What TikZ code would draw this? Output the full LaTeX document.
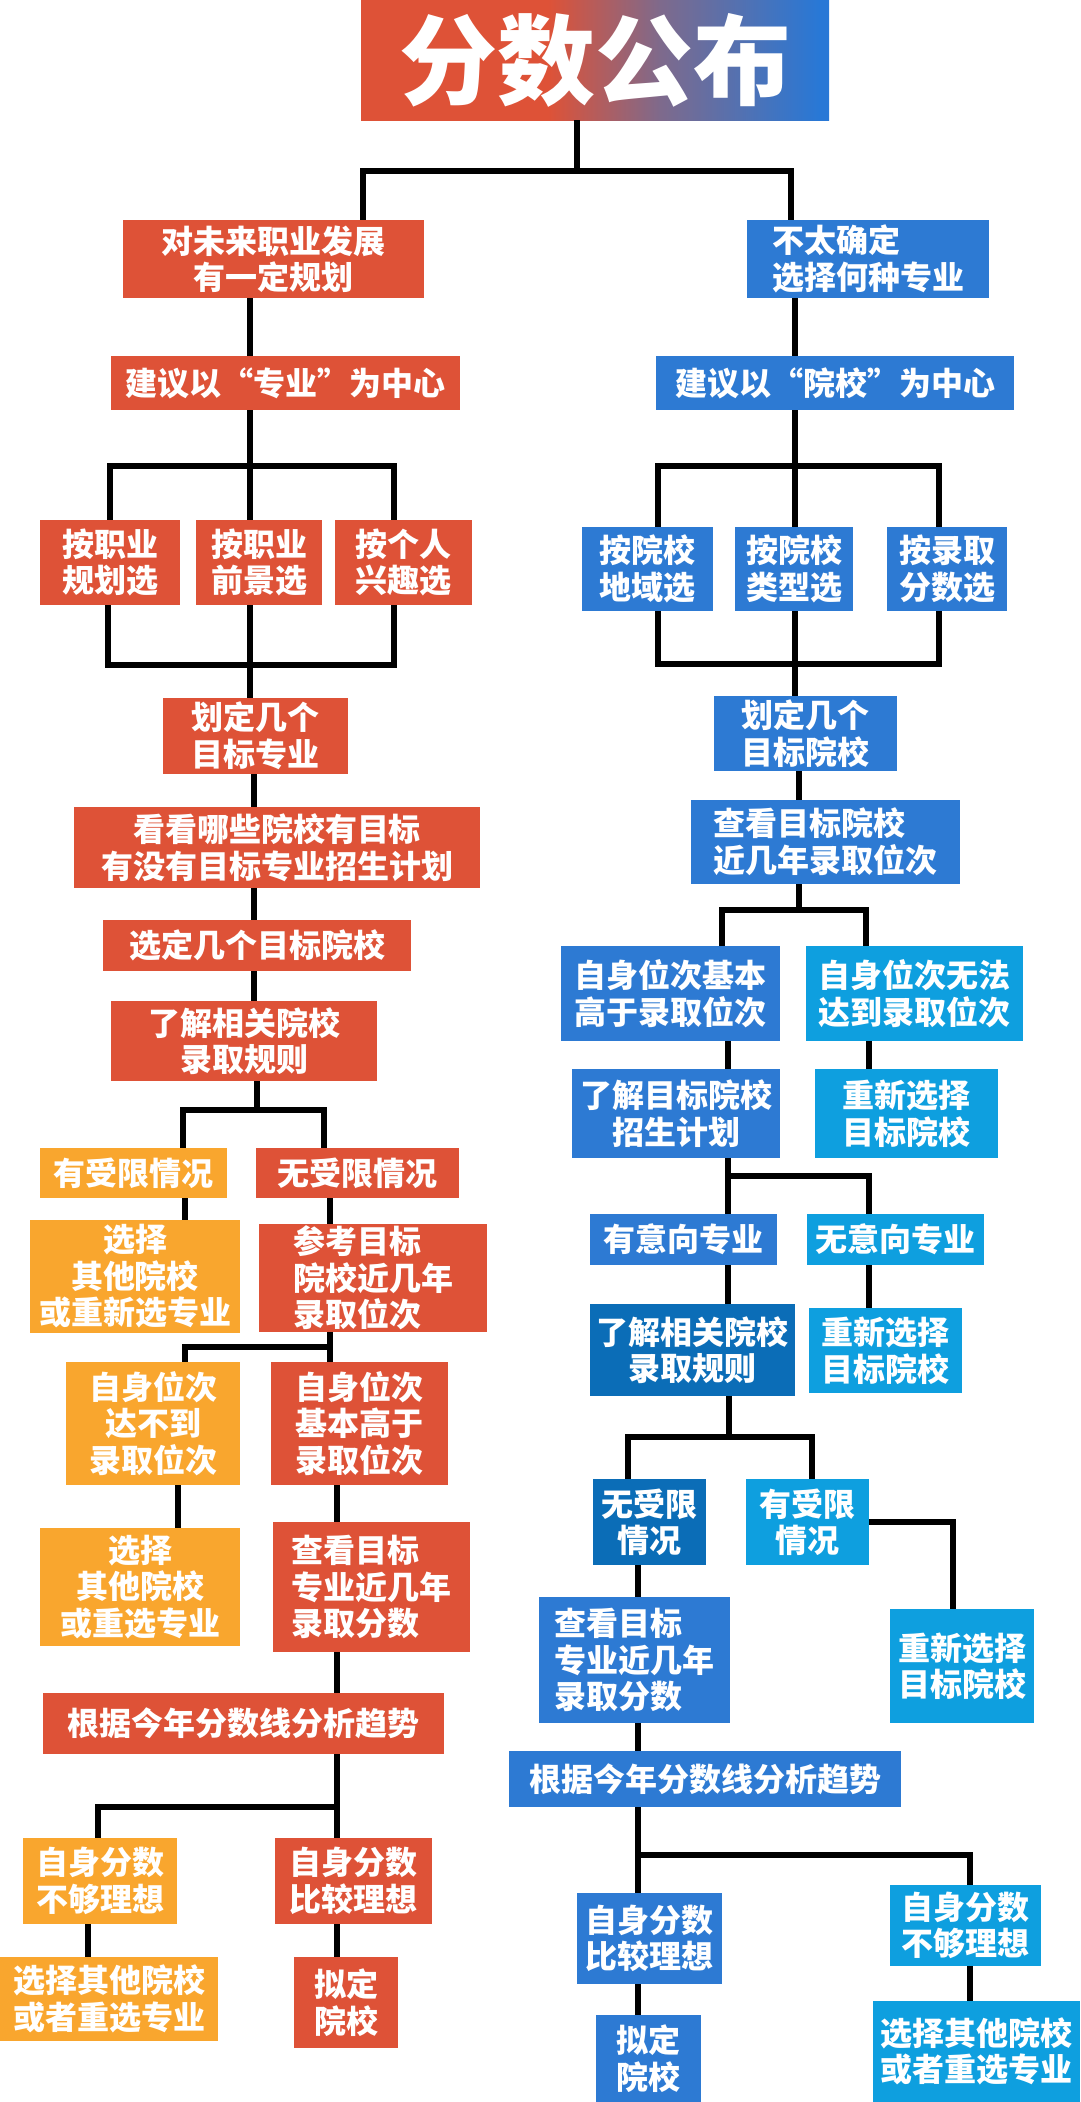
\documentclass[tikz,border=0pt]{standalone}
\usepackage{fontspec}
\newfontfamily\cjk[BoldFont={Noto Sans CJK SC Black}]{Noto Sans CJK SC}
\usepackage{xcolor}
\definecolor{cRed}{HTML}{DE5237}
\definecolor{cOrange}{HTML}{F9A62E}
\definecolor{cBlue}{HTML}{2D7AD3}
\definecolor{cSky}{HTML}{0E9FDF}
\definecolor{cNavy}{HTML}{0B6DB7}
\definecolor{cMid}{HTML}{7E6A8C}
\definecolor{cTop}{HTML}{2878D6}
\pgfdeclarehorizontalshading{titleshade}{100bp}{color(0bp)=(cRed); color(45bp)=(cRed); color(57bp)=(cMid); color(74bp)=(cTop); color(100bp)=(cTop)}
\tikzset{
    box/.style={
        rectangle,
        inner sep=0pt,
        text=white,
        align=center,
        font=\cjk\bfseries\fontsize{32}{36.5}\selectfont
    },
    sz/.style 2 args={minimum width=#1pt, minimum height=#2pt},
    wire/.style={
        draw,
        black,
        line width=6pt
    }
}

\begin{document}
\begin{tikzpicture}[
    x = 1pt,
    y = -1pt,
    red box/.style = {box, fill=cRed},
    orange box/.style = {box, fill=cOrange},
    blue box/.style = {box, fill=cBlue},
    sky box/.style = {box, fill=cSky},
    navy box/.style = {box, fill=cNavy}
]
\useasboundingbox (0,0) rectangle (1080,2102);

% Title
\node[box, sz={468}{120}, shade, shading=titleshade, font=\cjk\bfseries\fontsize{98}{100}\selectfont] (title) at (595,60) {分数公布};

% Left branch
\node[red box, sz={301}{78}] (l1) at (273.5,259) {对未来职业发展\\有一定规划};
\node[red box, sz={349}{54}] (l2) at (285.5,383) {建议以“专业”为中心};
\node[red box, sz={140}{85}] (l3a) at (110,562.5) {按职业\\规划选};
\node[red box, sz={126}{85}] (l3b) at (259,562.5) {按职业\\前景选};
\node[red box, sz={137}{85}] (l3c) at (403.5,562.5) {按个人\\兴趣选};
\node[red box, sz={185}{76}] (l4) at (255.5,736) {划定几个\\目标专业};
\node[red box, sz={406}{81}] (l5) at (277,847.5) {看看哪些院校有目标\\有没有目标专业招生计划};
\node[red box, sz={308}{51}] (l6) at (257,945.5) {选定几个目标院校};
\node[red box, sz={266}{80}] (l7) at (244,1041) {了解相关院校\\录取规则};
\node[orange box, sz={187}{50}] (l8a) at (133.5,1173) {有受限情况};
\node[red box, sz={203}{50}] (l8b) at (357.5,1173) {无受限情况};
\node[orange box, sz={210}{113}] (l9a) at (135,1276.5) {选择\\其他院校\\或重新选专业};
\node[red box, sz={228}{108}, align=left] (l9b) at (373,1278) {参考目标\\院校近几年\\录取位次};
\node[orange box, sz={174}{123}] (l10a) at (153,1423.5) {自身位次\\达不到\\录取位次};
\node[red box, sz={177}{123}] (l10b) at (359.5,1423.5) {自身位次\\基本高于\\录取位次};
\node[orange box, sz={200}{118}] (l11a) at (140,1587) {选择\\其他院校\\或重选专业};
\node[red box, sz={197}{130}, align=left] (l11b) at (371.5,1587) {查看目标\\专业近几年\\录取分数};
\node[red box, sz={401}{61}] (l12) at (243.5,1723.5) {根据今年分数线分析趋势};
\node[orange box, sz={154}{86}] (l13a) at (100,1881) {自身分数\\不够理想};
\node[red box, sz={157}{86}, align=left] (l13b) at (353.5,1881) {自身分数\\比较理想};
\node[orange box, sz={218}{84}] (l14a) at (109,1999) {选择其他院校\\或者重选专业};
\node[red box, sz={104}{91}] (l14b) at (346,2002.5) {拟定\\院校};

% Right branch
\node[blue box, sz={242}{78}, align=left] (r1) at (868,259) {不太确定\\选择何种专业};
\node[blue box, sz={358}{54}] (r2) at (835,383) {建议以“院校”为中心};
\node[blue box, sz={131}{84}] (r3a) at (647.5,569) {按院校\\地域选};
\node[blue box, sz={118}{84}] (r3b) at (794,569) {按院校\\类型选};
\node[blue box, sz={120}{84}] (r3c) at (947,569) {按录取\\分数选};
\node[blue box, sz={183}{75}] (r4) at (805.5,733.5) {划定几个\\目标院校};
\node[blue box, sz={269}{84}, align=left] (r5) at (825.5,842) {查看目标院校\\近几年录取位次};
\node[blue box, sz={219}{95}] (r6a) at (670.5,993.5) {自身位次基本\\高于录取位次};
\node[sky box, sz={217}{95}] (r6b) at (914.5,993.5) {自身位次无法\\达到录取位次};
\node[blue box, sz={208}{89}] (r7a) at (676,1113.5) {了解目标院校\\招生计划};
\node[sky box, sz={183}{89}] (r7b) at (906.5,1113.5) {重新选择\\目标院校};
\node[blue box, sz={187}{51}] (r8a) at (683.5,1239.5) {有意向专业};
\node[sky box, sz={177}{51}] (r8b) at (895.5,1239.5) {无意向专业};
\node[navy box, sz={205}{92}] (r9a) at (692.5,1350) {了解相关院校\\录取规则};
\node[sky box, sz={153}{85}] (r9b) at (885.5,1350.5) {重新选择\\目标院校};
\node[navy box, sz={113}{86}] (r10a) at (649.5,1522) {无受限\\情况};
\node[sky box, sz={123}{86}] (r10b) at (807.5,1522) {有受限\\情况};
\node[blue box, sz={191}{126}, align=left] (r11a) at (634.5,1660) {查看目标\\专业近几年\\录取分数};
\node[sky box, sz={144}{114}] (r11b) at (962,1666) {重新选择\\目标院校};
\node[blue box, sz={392}{56}] (r12) at (705,1779) {根据今年分数线分析趋势};
\node[blue box, sz={145}{91}] (r13a) at (649.5,1938.5) {自身分数\\比较理想};
\node[sky box, sz={151}{81}] (r13b) at (965.5,1925.5) {自身分数\\不够理想};
\node[blue box, sz={105}{87}] (r14a) at (648.5,2058.5) {拟定\\院校};
\node[sky box, sz={207}{101}] (r14b) at (976.5,2051.5) {选择其他院校\\或者重选专业};

% Junction points
\coordinate (t) at (577,171);
\coordinate (tl) at (363,171);
\coordinate (tr) at (791,171);
\coordinate (lb1) at (110,466);
\coordinate (lb2) at (250,466);
\coordinate (lb3) at (394,466);
\coordinate (lc1) at (108,665);
\coordinate (lc2) at (250,665);
\coordinate (lc3) at (394,665);
\coordinate (ld) at (254,900);
\coordinate (le1) at (183,1110);
\coordinate (le2) at (257,1110);
\coordinate (le3) at (324,1110);
\coordinate (lf1) at (185,1347);
\coordinate (lf3) at (330,1347);
\coordinate (lg1) at (178,1500);
\coordinate (lh1) at (98,1807);
\coordinate (lh2) at (337,1807);
\coordinate (li1) at (88,1940);
\coordinate (rb1) at (658,466);
\coordinate (rb2) at (795,466);
\coordinate (rb3) at (939,466);
\coordinate (rc1) at (658,664);
\coordinate (rc2) at (795,664);
\coordinate (rc3) at (939,664);
\coordinate (rd1) at (722,910);
\coordinate (rd2) at (799,910);
\coordinate (rd3) at (866,910);
\coordinate (re1) at (728,1176);
\coordinate (re2) at (869,1176);
\coordinate (rf1) at (628,1437);
\coordinate (rf2) at (729,1437);
\coordinate (rf3) at (812,1437);
\coordinate (rg) at (953,1522);
\coordinate (rh1) at (638,1855);
\coordinate (rh2) at (970,1855);

% From the title
\path[wire] (title.south -| t) -- (t);
\path[wire] (l1.north -| tl) -- (tl) -- (tr) -- (r1.north -| tr);

% Left connectors
\path[wire] (l1.south -| lb2) -- (l2.north -| lb2);
\path[wire] (l2.south -| lb2) -- (l3b.north -| lb2);
\path[wire] (l3a.north -| lb1) -- (lb1) -- (lb3) -- (l3c.north -| lb3);
\path[wire] (l3a.south -| lc1) -- (lc1) -- (lc3) -- (l3c.south -| lc3);
\path[wire] (l3b.south -| lc2) -- (l4.north -| lc2);
\path[wire] (l4.south -| ld) -- (l5.north -| ld);
\path[wire] (l5.south -| ld) -- (l6.north -| ld);
\path[wire] (l6.south -| ld) -- (l7.north -| ld);
\path[wire] (l7.south -| le2) -- (le2);
\path[wire] (l8a.north -| le1) -- (le1) -- (le3) -- (l8b.north -| le3);
\path[wire] (l8a.south -| lf1) -- (l9a.north -| lf1);
\path[wire] (l8b.south -| lf3) -- (l9b.north -| lf3);
\path[wire] (l9b.south -| lf3) -- (lf3) -- (lf1) -- (l10a.north -| lf1);
\path[wire] (lf3) -- (l10b.north -| lf3);
\path[wire] (l10a.south -| lg1) -- (l11a.north -| lg1);
\path[wire] (l10b.south -| lh2) -- (l11b.north -| lh2);
\path[wire] (l11b.south -| lh2) -- (l12.north -| lh2);
\path[wire] (l12.south -| lh2) -- (l13b.north -| lh2);
\path[wire] (lh2) -- (lh1) -- (l13a.north -| lh1);
\path[wire] (l13a.south -| li1) -- (l14a.north -| li1);
\path[wire] (l13b.south -| lh2) -- (l14b.north -| lh2);

% Right connectors
\path[wire] (r1.south -| rb2) -- (r2.north -| rb2);
\path[wire] (r2.south -| rb2) -- (r3b.north -| rb2);
\path[wire] (r3a.north -| rb1) -- (rb1) -- (rb3) -- (r3c.north -| rb3);
\path[wire] (r3a.south -| rc1) -- (rc1) -- (rc3) -- (r3c.south -| rc3);
\path[wire] (r3b.south -| rc2) -- (r4.north -| rc2);
\path[wire] (r4.south -| rd2) -- (r5.north -| rd2);
\path[wire] (r5.south -| rd2) -- (rd2);
\path[wire] (r6a.north -| rd1) -- (rd1) -- (rd3) -- (r6b.north -| rd3);
\path[wire] (r6a.south -| re1) -- (r7a.north -| re1);
\path[wire] (r6b.south -| re2) -- (r7b.north -| re2);
\path[wire] (r7a.south -| re1) -- (r8a.north -| re1);
\path[wire] (re1) -- (re2) -- (r8b.north -| re2);
\path[wire] (r8a.south -| re1) -- (r9a.north -| re1);
\path[wire] (r8b.south -| re2) -- (r9b.north -| re2);
\path[wire] (r9a.south -| rf2) -- (rf2);
\path[wire] (r10a.north -| rf1) -- (rf1) -- (rf3) -- (r10b.north -| rf3);
\path[wire] (r10b.east) -- (rg) -- (r11b.north -| rg);
\path[wire] (r10a.south -| rh1) -- (r11a.north -| rh1);
\path[wire] (r11a.south -| rh1) -- (r12.north -| rh1);
\path[wire] (r12.south -| rh1) -- (r13a.north -| rh1);
\path[wire] (rh1) -- (rh2) -- (r13b.north -| rh2);
\path[wire] (r13a.south -| rh1) -- (r14a.north -| rh1);
\path[wire] (r13b.south -| rh2) -- (r14b.north -| rh2);

\end{tikzpicture}
\end{document}
